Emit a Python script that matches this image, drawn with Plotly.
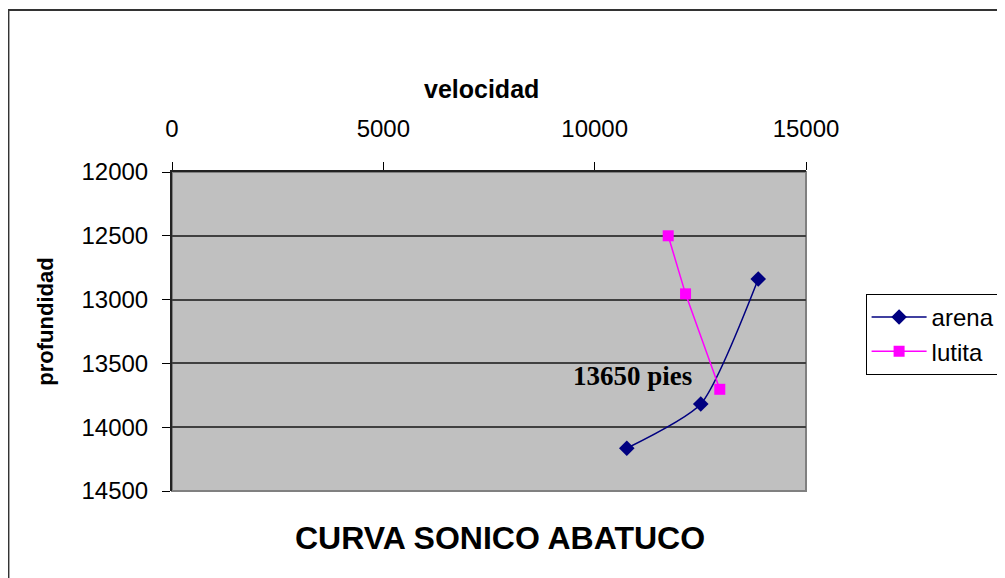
import plotly.graph_objects as go

# datos
arena_vel = [10760, 12510, 13870]
arena_prof = [14165, 13818, 12838]
lutita_vel = [11740, 12150, 12960]
lutita_prof = [12500, 12955, 13703]

x_ticks = [0, 5000, 10000, 15000]
y_ticks = [12000, 12500, 13000, 13500, 14000, 14500]

fig = go.Figure()

fig.add_trace(go.Scatter(
    x=arena_vel,
    y=arena_prof,
    mode="lines+markers",
    name="arena",
    line=dict(color="#000080", width=1.5, shape="spline", smoothing=0.6),
    marker=dict(symbol="diamond", size=12, color="#000080"),
))

fig.add_trace(go.Scatter(
    x=lutita_vel,
    y=lutita_prof,
    mode="lines+markers",
    name="lutita",
    line=dict(color="#FF00FF", width=1.5),
    marker=dict(symbol="square", size=11, color="#FF00FF"),
))

# borde del grafico (exterior) y del area de trazado
fig.add_shape(type="rect", xref="paper", yref="paper",
              x0=-0.258, x1=1.35, y0=-0.35, y1=1.508,
              line=dict(color="#333333", width=2), layer="below")
fig.add_shape(type="rect", xref="paper", yref="paper",
              x0=0, x1=1, y0=0, y1=1,
              line=dict(color="#808080", width=2), layer="below")

fig.add_annotation(x=10900, y=13600, xref="x", yref="y", text="<b>13650 pies</b>",
                   showarrow=False,
                   font=dict(family="Liberation Serif, Times New Roman, serif", size=27, color="black"))

fig.add_annotation(x=0.488, y=1.31, xref="paper", yref="paper", text="<b>velocidad</b>",
                   showarrow=False, font=dict(size=25, color="black"))
fig.add_annotation(x=-0.222, y=0.53, xref="paper", yref="paper", text="<b>profundidad</b>",
                   textangle=-90, showarrow=False, font=dict(size=22, color="black"))
fig.add_annotation(x=0.517, y=-0.21, xref="paper", yref="paper", text="<b>CURVA SONICO ABATUCO</b>",
                   showarrow=False, font=dict(size=32, color="black"))

fig.update_layout(
    width=1005,
    height=578,
    margin=dict(l=164, r=205, t=164, b=95),
    plot_bgcolor="#C0C0C0",
    paper_bgcolor="white",
    font=dict(family="Liberation Sans, Arial, sans-serif", size=24, color="black"),
    showlegend=True,
    legend=dict(x=1.094, y=0.618, xanchor="left", yanchor="top",
                bgcolor="white", bordercolor="black", borderwidth=1,
                font=dict(size=24), tracegroupgap=0, itemwidth=55),
)

fig.update_xaxes(
    side="top",
    range=[0, 15000],
    tickvals=x_ticks,
    tickformat="d",
    ticks="outside",
    ticklen=8,
    tickcolor="black",
    ticklabelstandoff=15,
    showgrid=False,
    zeroline=False,
    showline=True,
    linecolor="#222222",
    linewidth=2,
)
fig.update_yaxes(
    range=[14500, 12000],
    tickvals=y_ticks,
    tickformat="d",
    ticks="outside",
    ticklen=8,
    tickcolor="black",
    ticklabelstandoff=9,
    showgrid=True,
    gridcolor="#404040",
    gridwidth=1.5,
    zeroline=False,
    showline=True,
    linecolor="#222222",
    linewidth=2,
)

fig.write_html("out.html")
